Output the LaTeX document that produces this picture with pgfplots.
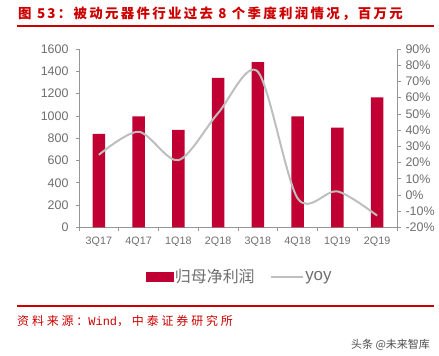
\documentclass[border=0pt]{standalone}
\usepackage{pgfplots}
\pgfplotsset{compat=1.18}
\usepackage{fontspec}
\setmainfont{Liberation Sans}
\setmonofont{Liberation Mono}
\newfontfamily\cjk{Noto Sans CJK SC}
\definecolor{titlered}{RGB}{204,0,0}
\definecolor{barred}{RGB}{192,0,50}
\definecolor{tickgray}{RGB}{110,110,110}
\definecolor{axgray}{RGB}{150,150,150}
\definecolor{yoygray}{RGB}{190,190,190}
\begin{document}
\begin{tikzpicture}
\path[use as bounding box] (0,0) rectangle (439bp,356bp);
% title
\node[anchor=west, inner sep=0pt, text=titlered] at (18bp,342bp)
  {\cjk\bfseries\fontsize{13.5}{14}\selectfont\addfontfeatures{LetterSpace=17}图 53：被动元器件行业过去 8 个季度利润情况，百万元};
\draw[titlered, line width=2.2bp] (17bp,330bp) -- (434bp,330bp);
% axes
\begin{axis}[
  at={(79bp,128.5bp)}, anchor=south west, scale only axis,
  width=318bp, height=178.5bp,
  xmin=-0.5, xmax=7.5, ymin=0, ymax=1600,
  ytick={0,200,...,1600},
  xtick={0,...,7},
  xticklabels={3Q17,4Q17,1Q18,2Q18,3Q18,4Q18,1Q19,2Q19},
  minor xtick={-0.5,0.5,...,7.5},
  major x tick style={draw=none},
  minor tick length=4bp, major tick length=3bp,
  tick align=outside,
  axis x line*=bottom, axis y line*=left,
  axis line style={-, draw=axgray, line width=0.8bp},
  every tick/.style={draw=axgray, line width=0.8bp},
  minor x tick style={draw=axgray, line width=0.8bp},
  /pgf/number format/assume math mode=true,
  /pgf/number format/1000 sep={},
  yticklabel style={font=\fontsize{12.5}{12}\selectfont, text=tickgray, xshift=-4bp},
  xticklabel style={font=\fontsize{10.8}{11}\selectfont, text=tickgray, yshift=-3bp},
  ybar, bar width=12.7bp,
]
\addplot[fill=barred, draw=none] coordinates {
  (0,840) (1,995) (2,875) (3,1342) (4,1483) (5,995) (6,895) (7,1166)};
\end{axis}
\begin{axis}[
  at={(79bp,128.5bp)}, anchor=south west, scale only axis,
  width=318bp, height=178.5bp,
  xmin=-0.5, xmax=7.5, ymin=-20, ymax=90,
  ytick={-20,-10,...,90},
  axis x line=none, axis y line*=right,
  axis line style={-, draw=axgray, line width=0.8bp},
  every tick/.style={draw=axgray, line width=0.8bp},
  major tick length=4bp, tick align=outside,
  /pgf/number format/assume math mode=true,
  yticklabel={\pgfmathprintnumber{\tick}\%},
  yticklabel style={font=\fontsize{12.5}{12}\selectfont, text=tickgray, xshift=1bp},
  legend style={at={(0.505,-0.276)}, anchor=center, draw=none, fill=none,
    legend columns=2, text=tickgray,
    /tikz/every even column/.append style={column sep=14bp},
    nodes={inner sep=1.5bp}},
]
\addlegendimage{legend image code/.code={\fill[barred] (0bp,-4.75bp) rectangle (27bp,4.75bp);}}
\addlegendentry{\cjk\fontsize{16}{16}\selectfont 归母净利润}
\addplot[yoygray, line width=2bp, smooth, no markers,
  legend image code/.code={\draw[yoygray, line width=1.6bp] (0bp,0bp) -- (32bp,0bp);}]
  coordinates {(0,24.8) (1,39) (2,21.5) (3,50.5) (4,76) (5,-2) (6,2.3) (7,-12.7)};
\addlegendentry{\fontsize{17}{17}\selectfont yoy}
\end{axis}
% footer
\draw[titlered, line width=2.2bp] (17bp,50.3bp) -- (434bp,50.3bp);
\node[anchor=west, inner sep=0pt, text=titlered] at (17bp,35bp)
  {\cjk\fontsize{12}{12}\selectfont\addfontfeatures{LetterSpace=24}资料来源：{\ttfamily\fontsize{12}{12}\selectfont Wind}，中泰证券研究所};
\node[anchor=east, inner sep=0pt, text=black!70] at (430bp,11bp)
  {\cjk\fontsize{11}{11}\selectfont 头条 @未来智库};
\end{tikzpicture}
\end{document}
